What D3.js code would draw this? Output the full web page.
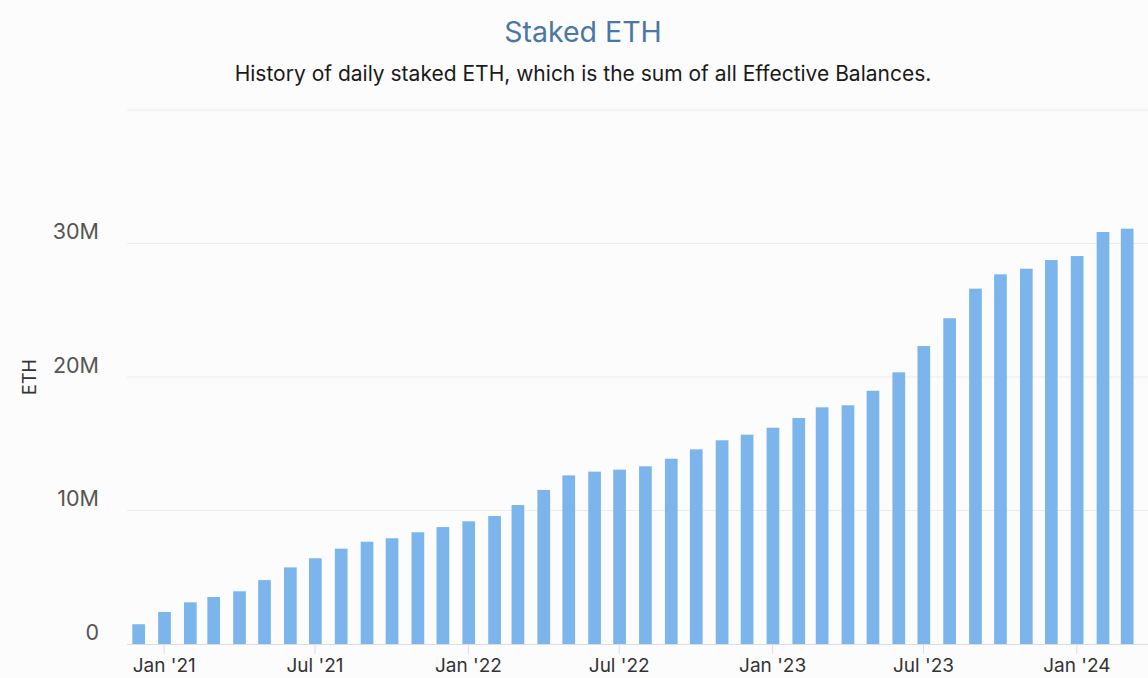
<!DOCTYPE html>
<html>
<head>
<meta charset="utf-8">
<script src="https://cdn.jsdelivr.net/npm/d3@7"></script>
<style>
  html, body { margin: 0; padding: 0; background: #fcfcfc; }
  svg { display: block; font-family: Inter, "Noto Sans", sans-serif; }
</style>
</head>
<body>
<svg id="chart" width="1148" height="678"></svg>
<script>
// ---- data ----
const months = [
  "2020-12","2021-01","2021-02","2021-03","2021-04","2021-05","2021-06","2021-07","2021-08","2021-09",
  "2021-10","2021-11","2021-12","2022-01","2022-02","2022-03","2022-04","2022-05","2022-06","2022-07",
  "2022-08","2022-09","2022-10","2022-11","2022-12","2023-01","2023-02","2023-03","2023-04","2023-05",
  "2023-06","2023-07","2023-08","2023-09","2023-10","2023-11","2023-12","2024-01","2024-02","2024-03"
];
const stakedEth = [
  1.48, 2.40, 3.12, 3.52, 3.95, 4.79, 5.74, 6.42, 7.14, 7.66,
  7.92, 8.37, 8.76, 9.19, 9.59, 10.41, 11.54, 12.63, 12.91, 13.06,
  13.31, 13.88, 14.58, 15.26, 15.68, 16.20, 16.93, 17.73, 17.88, 18.97,
  20.35, 22.32, 24.40, 26.62, 27.69, 28.11, 28.76, 29.06, 30.86, 31.11
].map(v => v * 1e6);
const yTickValues = [0, 10e6, 20e6, 30e6];
const yGridValues = [10e6, 20e6, 30e6, 40e6];
const xTickLabels = ["Jan '21","Jul '21","Jan '22","Jul '22","Jan '23","Jul '23","Jan '24"];
const titleText = "Staked ETH";
const subtitleText = "History of daily staked ETH, which is the sum of all Effective Balances.";
const yAxisTitle = "ETH";

// ---- layout ----
const svg = d3.select("#chart");
const plotLeft = 127, plotRight = 1148, plotTop = 110, plotBottom = 644;
const parse = d3.timeParse("%Y-%m");
const data = months.map((m, i) => ({ date: d3.timeDay.offset(parse(m), 1), value: stakedEth[i] }));

const x = d3.scaleTime()
  .domain([new Date(2020, 10, 18), new Date(2024, 2, 27)])
  .range([plotLeft, plotRight]);
const y = d3.scaleLinear().domain([0, 40e6]).range([plotBottom, plotTop]);

// title
svg.append("text").attr("x", 583).attr("y", 42).attr("text-anchor", "middle")
  .attr("font-size", 28.5).attr("fill", "#4a77a6").text(titleText);
svg.append("text").attr("x", 583).attr("y", 81).attr("text-anchor", "middle")
  .attr("font-size", 21).attr("fill", "#1a1a1a").text(subtitleText);

// grid
svg.append("g").selectAll("line").data(yGridValues).join("line")
  .attr("x1", plotLeft).attr("x2", plotRight)
  .attr("y1", d => y(d)).attr("y2", d => y(d))
  .attr("stroke", "#ececec").attr("stroke-width", 1);

// y labels
const yAxis = d3.axisLeft(y).tickValues(yTickValues)
  .tickFormat(d => d === 0 ? "0" : (d / 1e6) + "M").tickSize(0).tickPadding(0);
const gy = svg.append("g").attr("transform", `translate(99,0)`).call(yAxis);
gy.select(".domain").remove();
gy.selectAll("text").attr("font-size", 21.5).attr("fill", "#555")
  .attr("font-family", "Inter, 'Noto Sans', sans-serif")
  .attr("dy", -5).attr("dominant-baseline", "auto").attr("y", 0);

// y title
svg.append("text").attr("transform", "translate(36,377) rotate(-90)")
  .attr("text-anchor", "middle").attr("font-size", 18).attr("fill", "#333").text(yAxisTitle);

// bars
const barW = 12.7;
svg.append("g").selectAll("rect").data(data).join("rect")
  .attr("x", d => x(d.date) - barW / 2)
  .attr("width", barW)
  .attr("y", d => y(d.value))
  .attr("height", d => y(0) - y(d.value))
  .attr("fill", "#7cb5ec");

// x axis
const xTickDates = d3.timeMonth.every(6).range(new Date(2021, 0, 1), new Date(2024, 1, 1));
const xAxis = d3.axisBottom(x).tickValues(xTickDates)
  .tickFormat((d, i) => xTickLabels[i]).tickSize(10).tickPadding(0).tickSizeOuter(0);
const gx = svg.append("g").attr("transform", `translate(0,${plotBottom})`).call(xAxis);
gx.select(".domain").attr("stroke", "#d8dde8").attr("stroke-width", 1.2)
  .attr("d", `M${plotLeft},0.5H${plotRight}`);
gx.selectAll(".tick line").attr("stroke", "#d8dde8");
gx.selectAll("text").attr("font-size", 19).attr("fill", "#333")
  .attr("font-family", "Inter, 'Noto Sans', sans-serif")
  .attr("y", 28).attr("dy", 0);
</script>
</body>
</html>
